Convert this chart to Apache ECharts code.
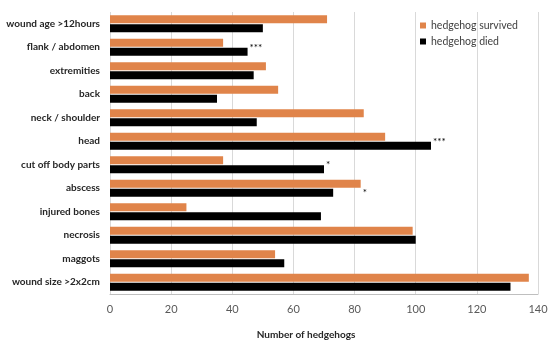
<!DOCTYPE html>
<html><head><meta charset="utf-8">
<script src="https://cdn.jsdelivr.net/npm/echarts@6/dist/echarts.min.js"></script>
<style>html,body{margin:0;padding:0;background:#fff}#c{width:550px;height:346px}</style>
</head><body><div id="c"></div>
<script>
const categories = ['wound age >12hours','flank / abdomen','extremities','back','neck / shoulder','head','cut off body parts','abscess','injured bones','necrosis','maggots','wound size >2x2cm'];
const survived = [71, 37, 51, 55, 83, 90, 37, 82, 25, 99, 54, 137];
const died = [50, 45, 47, 35, 48, 105, 70, 73, 69, 100, 57, 131];
const significance = ['', '***', '', '', '', '***', '*', '*', '', '', '', ''];
const xTicks = [0, 20, 40, 60, 80, 100, 120, 140];

const font = 'Lato, "Open Sans", sans-serif';
const diedData = died.map((v, i) => {
  const s = significance[i];
  if (!s) return v;
  const extra = i === 7 ? (survived[i] - v) * 3.06 : 0;
  return {value: v, label: {show: true, formatter: s, position: 'right',
    offset: i === 7 ? [extra - 3, 0] : [-3, -4], color: '#000', fontSize: 10, fontFamily: font}};
});

const chart = echarts.init(document.getElementById('c'), null, {renderer: 'canvas'});
chart.setOption({
  animation: false,
  grid: {left: 110, right: 12, top: 12, bottom: 52, containLabel: false, outerBoundsMode: 'none'},
  legend: {
    data: ['hedgehog survived', 'hedgehog died'],
    orient: 'vertical', left: 415, top: 15,
    itemWidth: 6, itemHeight: 6, itemGap: 5,
    icon: 'rect',
    textStyle: {fontFamily: font, fontSize: 10.5, color: '#404040'}
  },
  xAxis: {
    type: 'value', min: 0, max: 140, interval: 20,
    axisLine: {show: true, lineStyle: {color: '#bfbfbf'}},
    axisTick: {show: false},
    splitLine: {lineStyle: {color: '#d9d9d9'}},
    axisLabel: {fontFamily: font, fontSize: 11, color: '#595959', margin: 10,
      formatter: v => xTicks.includes(v) ? String(v) : ''},
    name: 'Number of hedgehogs', nameLocation: 'middle', nameGap: 36,
    nameTextStyle: {fontFamily: font, fontSize: 10, fontWeight: 'bold', color: '#262626', padding: [0, 36, 0, 0]}
  },
  yAxis: {
    type: 'category', data: categories, inverse: true,
    axisLine: {show: false}, axisTick: {show: false},
    axisLabel: {fontFamily: font, fontSize: 10, fontWeight: 'bold', color: '#262626', margin: 10}
  },
  series: [
    {name: 'hedgehog survived', type: 'bar', data: survived, barWidth: 8, barGap: '12%',
      itemStyle: {color: '#e0844a'}},
    {name: 'hedgehog died', type: 'bar', data: diedData, barWidth: 8,
      itemStyle: {color: '#000000'}}
  ]
});
</script></body></html>
